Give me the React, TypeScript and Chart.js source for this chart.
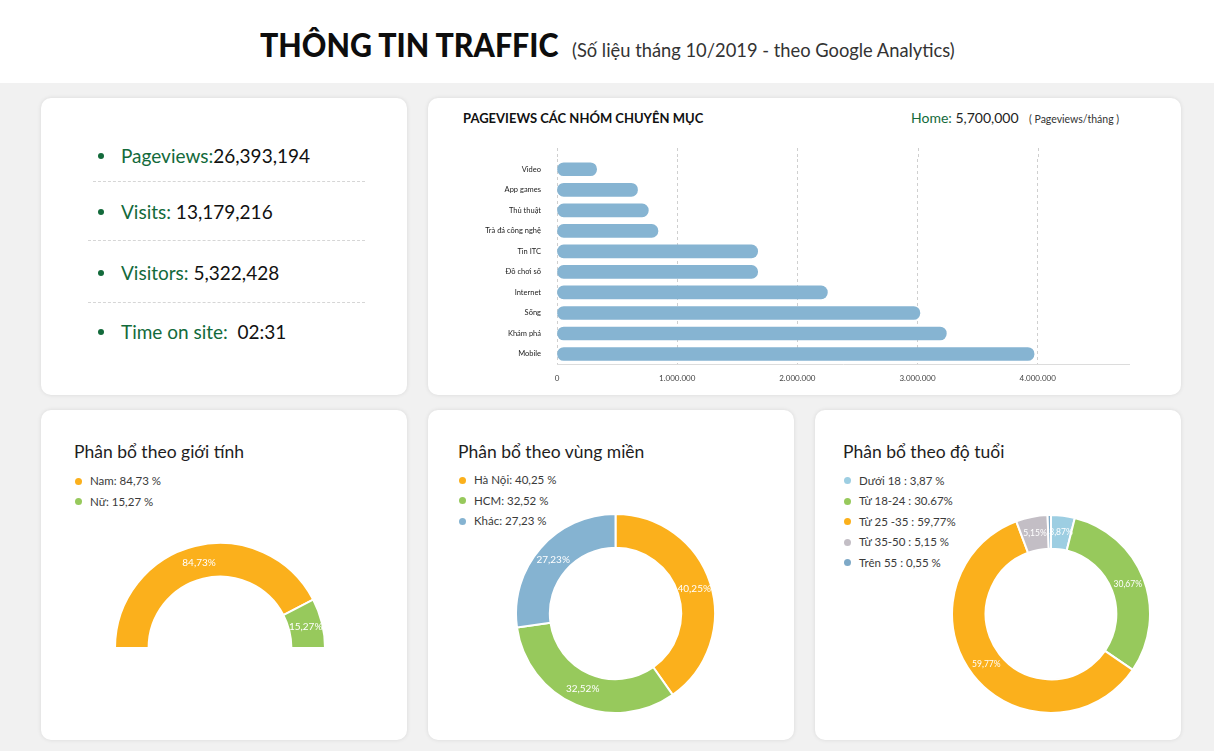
import React, { useEffect, useRef } from 'react';
import { Chart, registerables } from 'chart.js';

Chart.register(...registerables);

// ---------- DATA ----------
const statLabels = ['Pageviews:', 'Visits:', 'Visitors:', 'Time on site:'];
const statValues = ['26,393,194', ' 13,179,216', ' 5,322,428', '\u00a0\u00a002:31'];

const categories = ['Video', 'App games', 'Thủ thuật', 'Trà đá công nghệ', 'Tin ITC', 'Đồ chơi số', 'Internet', 'Sống', 'Khám phá', 'Mobile'];
const pageviews = [330000, 670000, 760000, 840000, 1670000, 1670000, 2250000, 3020000, 3240000, 3970000];
const xTicks = [0, 1000000, 2000000, 3000000, 4000000];
const xMax = 4760000;

const genderLabels = ['Nam', 'Nữ'];
const genderValues = [84.73, 15.27];
const genderLegend = ['Nam: 84,73 %', 'Nữ: 15,27 %'];

const regionLabels = ['Hà Nội', 'HCM', 'Khác'];
const regionValues = [40.25, 32.52, 27.23];
const regionLegend = ['Hà Nội: 40,25 %', 'HCM: 32,52 %', 'Khác: 27,23 %'];

const ageLabels = ['Dưới 18', 'Từ 18-24', 'Từ 25 -35', 'Từ 35-50', 'Trên 55'];
const ageValues = [3.87, 30.67, 59.77, 5.15, 0.55];
const ageLegend = ['Dưới 18 : 3,87 %', 'Từ 18-24 : 30.67%', 'Từ 25 -35 : 59,77%', 'Từ 35-50 : 5,15 %', 'Trên 55 : 0,55 %'];

// ---------- STYLE ----------
const ORANGE = '#fbb01c';
const GREEN = '#97c95c';
const BLUE = '#85b3d1';
const LIGHTBLUE = '#9dcee2';
const GRAY = '#c3bec5';
const DARKBLUE = '#7ea9c7';
const BAR = '#86b4d2';
const DKGREEN = '#136a3b';
const FONT = "Lato, 'Noto Sans', sans-serif";

const genderColors = [ORANGE, GREEN];
const regionColors = [ORANGE, GREEN, BLUE];
const ageColors = [LIGHTBLUE, GREEN, ORANGE, GRAY, DARKBLUE];

const dots = (v: number) => String(v).replace(/\B(?=(\d{3})+(?!\d))/g, '.');
const pct = (v: number) => v.toFixed(2).replace('.', ',') + '%';

const sliceLabelPlugin = {
  id: 'sliceLabels',
  afterDatasetsDraw(chart: any, _args: any, opts: any) {
    const ctx = chart.ctx;
    const meta = chart.getDatasetMeta(0);
    const data = chart.data.datasets[0].data as number[];
    ctx.save();
    ctx.fillStyle = '#ffffff';
    ctx.font = `${opts.size || 9}px ${FONT}`;
    ctx.textAlign = 'center';
    ctx.textBaseline = 'middle';
    meta.data.forEach((arc: any, i: number) => {
      const v = data[i];
      if (v < 1) return;
      const p = arc.tooltipPosition();
      ctx.fillText(pct(v), p.x, p.y);
    });
    ctx.restore();
  },
};

// extends the dashed vertical grid lines a little above the plot area
const gridExtendPlugin = {
  id: 'gridExtend',
  beforeDatasetsDraw(chart: any, _args: any, opts: any) {
    const ctx = chart.ctx;
    const xs = chart.scales.x;
    const top = chart.chartArea.top;
    const ext = opts.extend || 0;
    ctx.save();
    ctx.strokeStyle = opts.color || '#cfcfcf';
    ctx.lineWidth = 1;
    ctx.setLineDash([3, 3]);
    xs.ticks.forEach((_t: any, i: number) => {
      const px = Math.round(xs.getPixelForTick(i)) + 0.5;
      ctx.beginPath();
      ctx.moveTo(px, top - ext);
      ctx.lineTo(px, top);
      ctx.stroke();
    });
    ctx.restore();
  },
};

function ChartCanvas({ make, left, top, width, height }: any) {
  const ref = useRef<HTMLCanvasElement>(null);
  useEffect(() => {
    const chart = new Chart(ref.current as HTMLCanvasElement, make());
    return () => chart.destroy();
  }, []);
  return (
    <canvas
      ref={ref}
      width={width}
      height={height}
      style={{ position: 'absolute', left, top, width, height }}
    />
  );
}

const makeBar = () => ({
  type: 'bar',
  data: {
    labels: categories,
    datasets: [
      {
        data: pageviews,
        backgroundColor: BAR,
        borderRadius: 7,
        borderSkipped: false,
        barThickness: 13,
      },
    ],
  },
  options: {
    indexAxis: 'y',
    animation: false,
    responsive: false,
    events: [],
    layout: { padding: { top: 19, right: 11, left: 0, bottom: 0 } },
    plugins: {
      legend: { display: false },
      tooltip: { enabled: false },
      gridExtend: { extend: 11, color: '#cfcfcf' },
    },
    scales: {
      x: {
        min: 0,
        max: xMax,
        afterBuildTicks: (s: any) => {
          s.ticks = xTicks.map((v) => ({ value: v }));
        },
        afterFit: (s: any) => {
          s.height = 30.7;
        },
        ticks: {
          callback: (v: any) => dots(Number(v)),
          font: { size: 8, family: FONT },
          color: '#444',
          padding: 9,
          maxRotation: 0,
        },
        grid: { color: '#cfcfcf', drawTicks: false, lineWidth: 1 },
        border: { display: true, color: '#dcdcdc', dash: [3, 3] },
      },
      y: {
        afterFit: (s: any) => {
          s.width = 117;
        },
        grid: { display: false },
        border: { display: false },
        ticks: {
          font: { size: 7.5, family: FONT },
          color: '#222',
          padding: 8,
        },
      },
    },
  },
  plugins: [gridExtendPlugin],
});

const makeDonut = (labels: string[], values: number[], colors: string[], opts: any) => ({
  type: 'doughnut',
  data: {
    labels,
    datasets: [
      {
        data: values,
        backgroundColor: colors,
        borderColor: '#ffffff',
        borderWidth: opts.borderWidth,
        hoverBorderWidth: opts.borderWidth,
        hoverOffset: 0,
      },
    ],
  },
  options: {
    animation: false,
    responsive: false,
    events: [],
    cutout: opts.cutout,
    rotation: opts.rotation || 0,
    circumference: opts.circumference || 360,
    layout: { padding: 0 },
    plugins: {
      legend: { display: false },
      tooltip: { enabled: false },
      sliceLabels: { size: opts.labelSize },
    },
  },
  plugins: [sliceLabelPlugin],
});

const card: React.CSSProperties = {
  position: 'absolute',
  background: '#ffffff',
  borderRadius: 10,
  boxShadow: '0 0 4px rgba(0,0,0,0.10)',
};

function Legend({ items, colors, left, top }: any) {
  return (
    <>
      {items.map((t: string, i: number) => (
        <div
          key={i}
          style={{
            position: 'absolute',
            left,
            top: top + i * 20.5 - 8,
            height: 16,
            lineHeight: '16px',
            fontFamily: FONT,
            fontSize: 11.5,
            color: '#3a3a3a',
            whiteSpace: 'nowrap',
          }}
        >
          <span
            style={{
              display: 'inline-block',
              width: 7,
              height: 7,
              borderRadius: '50%',
              background: colors[i],
              marginRight: 8,
              verticalAlign: 'middle',
              position: 'relative',
              top: -1,
            }}
          />
          {t}
        </div>
      ))}
    </>
  );
}

function CardTitle({ text, left }: any) {
  return (
    <div
      style={{
        position: 'absolute',
        left,
        top: 441,
        fontFamily: FONT,
        fontSize: 17.5,
        lineHeight: '22px',
        color: '#1e1e1e',
        whiteSpace: 'nowrap',
      }}
    >
      {text}
    </div>
  );
}

export default function App() {
  const statCenters = [156, 212, 273, 332];
  const seps = [
    { y: 181, x1: 93, x2: 365 },
    { y: 240, x1: 88, x2: 365 },
    { y: 302, x1: 88, x2: 365 },
  ];
  return (
    <div
      style={{
        position: 'absolute',
        left: 0,
        top: 0,
        width: 1214,
        height: 751,
        background: '#f1f1f1',
        overflow: 'hidden',
      }}
    >
      {/* header */}
      <div style={{ position: 'absolute', left: 0, top: 0, width: 1214, height: 83, background: '#fff' }} />
      <div
        style={{
          position: 'absolute',
          left: 260,
          top: 24,
          lineHeight: '40px',
          fontFamily: FONT,
          fontWeight: 900,
          fontSize: 33,
          color: '#0d0d0d',
          whiteSpace: 'nowrap',
          transform: 'scaleX(0.92)',
          transformOrigin: 'left center',
        }}
      >
        THÔNG TIN TRAFFIC
      </div>
      <div
        style={{
          position: 'absolute',
          left: 572,
          top: 37,
          lineHeight: '24px',
          fontFamily: FONT,
          fontSize: 20,
          color: '#333',
          whiteSpace: 'nowrap',
          transform: 'scaleX(0.916)',
          transformOrigin: 'left center',
        }}
      >
        (Số liệu tháng 10/2019 - theo Google Analytics)
      </div>

      {/* cards */}
      <div style={{ ...card, left: 41, top: 98, width: 366, height: 297 }} />
      <div style={{ ...card, left: 428, top: 98, width: 753, height: 297 }} />
      <div style={{ ...card, left: 41, top: 410, width: 366, height: 330 }} />
      <div style={{ ...card, left: 428, top: 410, width: 366, height: 330 }} />
      <div style={{ ...card, left: 815, top: 410, width: 366, height: 330 }} />

      {/* stats */}
      {statLabels.map((l, i) => (
        <React.Fragment key={i}>
          <div
            style={{
              position: 'absolute',
              left: 98,
              top: statCenters[i] - 3,
              width: 6,
              height: 6,
              borderRadius: '50%',
              background: DKGREEN,
            }}
          />
          <div
            style={{
              position: 'absolute',
              left: 121,
              top: statCenters[i] - 13,
              lineHeight: '26px',
              fontFamily: FONT,
              fontSize: 19,
              whiteSpace: 'pre',
            }}
          >
            <span style={{ color: DKGREEN }}>{l}</span>
            <span style={{ color: '#111' }}>{statValues[i]}</span>
          </div>
        </React.Fragment>
      ))}
      {seps.map((s, i) => (
        <div
          key={i}
          style={{
            position: 'absolute',
            left: s.x1,
            top: s.y,
            width: s.x2 - s.x1,
            height: 0,
            borderTop: '1px dashed #d6d6d6',
          }}
        />
      ))}

      {/* bar card header */}
      <div
        style={{
          position: 'absolute',
          left: 463,
          top: 110,
          lineHeight: '16px',
          fontFamily: FONT,
          fontWeight: 700,
          fontSize: 13,
          color: '#111',
          whiteSpace: 'nowrap',
        }}
      >
        PAGEVIEWS CÁC NHÓM CHUYÊN MỤC
      </div>
      <div
        style={{
          position: 'absolute',
          left: 911,
          top: 110,
          lineHeight: '16px',
          fontFamily: FONT,
          fontSize: 14,
          whiteSpace: 'pre',
        }}
      >
        <span style={{ color: DKGREEN }}>Home:</span>
        <span style={{ color: '#222' }}> 5,700,000</span>
      </div>
      <div
        style={{
          position: 'absolute',
          left: 1029,
          top: 111,
          lineHeight: '16px',
          fontFamily: FONT,
          fontSize: 10.5,
          color: '#333',
          whiteSpace: 'pre',
        }}
      >
        ( Pageviews/tháng )
      </div>

      <ChartCanvas make={makeBar} left={440} top={140} width={700} height={255} />

      {/* donut cards */}
      <CardTitle text="Phân bổ theo giới tính" left={74} />
      <Legend items={genderLegend} colors={genderColors} left={75} top={481} />
      <ChartCanvas
        make={() =>
          makeDonut(genderLabels, genderValues, genderColors, {
            cutout: '68%',
            rotation: -90,
            circumference: 180,
            borderWidth: 2,
            labelSize: 10,
          })
        }
        left={114}
        top={542}
        width={212}
        height={107}
      />

      <CardTitle text="Phân bổ theo vùng miền" left={458} />
      <Legend items={regionLegend} colors={regionColors} left={459} top={480} />
      <ChartCanvas
        make={() =>
          makeDonut(regionLabels, regionValues, regionColors, {
            cutout: '66%',
            borderWidth: 2,
            labelSize: 10,
          })
        }
        left={515}
        top={513}
        width={201}
        height={201}
      />

      <CardTitle text="Phân bổ theo độ tuổi" left={843} />
      <Legend items={ageLegend} colors={ageColors} left={844} top={480.5} />
      <ChartCanvas
        make={() =>
          makeDonut(ageLabels, ageValues, ageColors, {
            cutout: '66%',
            borderWidth: 2,
            labelSize: 8.5,
          })
        }
        left={951}
        top={514}
        width={200}
        height={200}
      />
    </div>
  );
}
